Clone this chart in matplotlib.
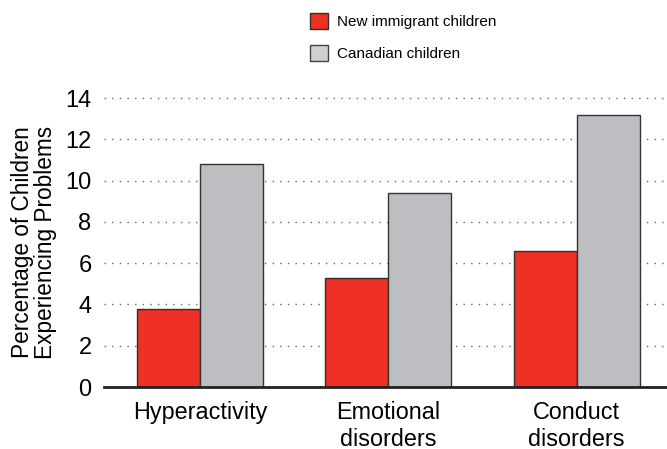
import numpy as np
import matplotlib.pyplot as plt
from matplotlib.patches import Patch

# Percentages of children with problems, by group
categories = ['Hyperactivity', 'Emotional\ndisorders', 'Conduct\ndisorders']
immigrant = [3.8, 5.3, 6.6]
canadian = [10.8, 9.4, 13.2]
series_names = ['New immigrant children', 'Canadian children']

plt.rcParams['font.family'] = ['Liberation Sans', 'DejaVu Sans']

red = '#EE3124'
grey = '#BDBEC2'

fig = plt.figure(figsize=(6.67, 4.49), dpi=100)
ax = fig.add_axes([0.156, 0.138, 0.844, 0.646])

x = np.arange(len(categories))
w = 0.335
ax.bar(x - w / 2, immigrant, w, color=red, edgecolor='#3a2a2a', linewidth=1.0, zorder=3)
ax.bar(x + w / 2, canadian, w, color=grey, edgecolor='#333333', linewidth=1.0, zorder=3)

ax.set_xlim(-0.51, 2.48)
ax.set_ylim(0, 14.05)
ax.set_yticks(range(0, 15, 2))
ax.set_xticks(x)
ax.set_xticklabels(categories, fontsize=16.8, va='top', linespacing=1.2)
ax.tick_params(axis='y', length=0, labelsize=17, pad=9)
ax.tick_params(axis='x', length=0, pad=10)

ax.yaxis.grid(True, linestyle=(0, (1, 4.5)), color='#666666', linewidth=1.0, zorder=0)
for s in ['top', 'right', 'left']:
    ax.spines[s].set_visible(False)
ax.spines['bottom'].set_linewidth(2)
ax.spines['bottom'].set_color('#222222')
ax.spines['bottom'].set_zorder(4)

ax.set_ylabel('Percentage of Children\nExperiencing Problems', fontsize=16.3,
              linespacing=1.0, labelpad=6)

handles = [Patch(facecolor=red, edgecolor='#3a2a2a', linewidth=1.0),
           Patch(facecolor='#CFD0D3', edgecolor='#444444', linewidth=1.0)]
fig.legend(handles, series_names, loc='upper left', bbox_to_anchor=(0.455, 0.985),
           frameon=False, fontsize=11, handlelength=1.2, handleheight=1.2,
           handletextpad=0.6, labelspacing=1.05, borderaxespad=0)

fig.savefig('out.png', dpi=100)
